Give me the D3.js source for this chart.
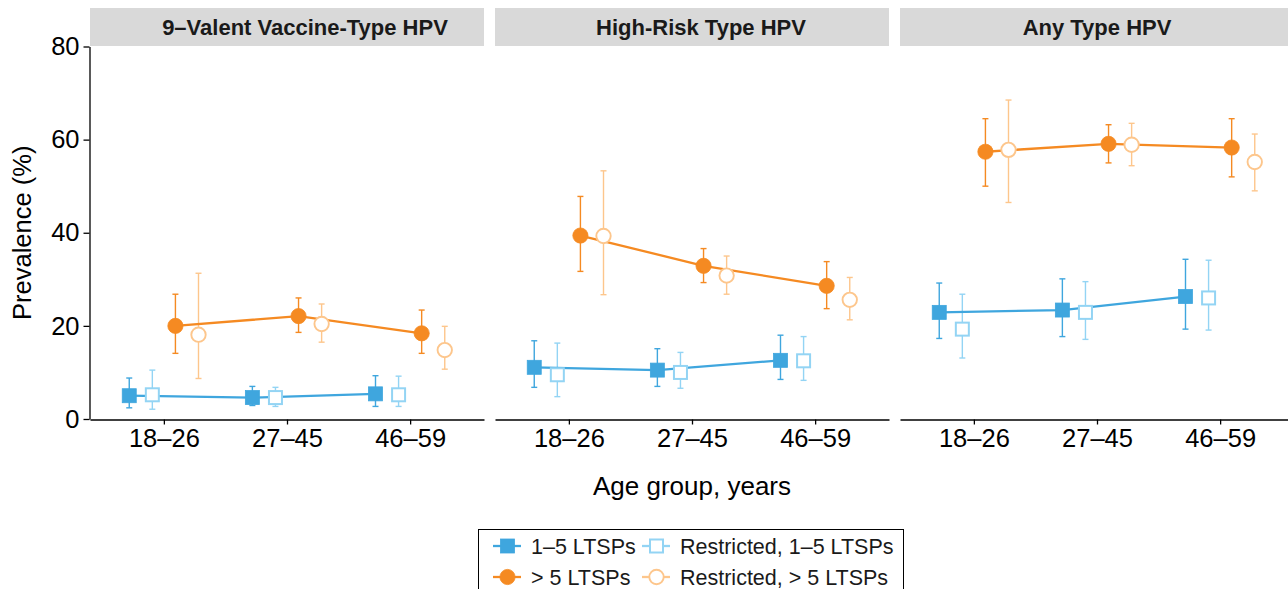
<!DOCTYPE html>
<html>
<head>
<meta charset="utf-8">
<script src="https://cdn.jsdelivr.net/npm/d3@7"></script>
<style>
  body { margin: 0; background: #fff; }
  svg { font-family: "Liberation Sans", Arial, Helvetica, sans-serif; }
  .axis path, .axis line { stroke: #000; stroke-width: 1.3; }
  .axis text { font-size: 25.5px; fill: #000; }
</style>
</head>
<body>
<div id="chart"></div>
<script>
// panels, categories, series
const panels = ["9\u2013Valent Vaccine-Type HPV", "High-Risk Type HPV", "Any Type HPV"];
const ageGroups = ["18\u201326", "27\u201345", "46\u201359"];
const seriesNames = ["1\u20135 LTSPs", "Restricted, 1\u20135 LTSPs", "> 5 LTSPs", "Restricted, > 5 LTSPs"];
const yTicks = [0, 20, 40, 60, 80];

// estimates [panel][age group] for each series
const est15 = [[5.0, 4.6, 5.4], [11.1, 10.5, 12.6], [22.9, 23.4, 26.3]];
const lo15  = [[2.4, 2.9, 2.7], [6.8, 7.0, 8.5], [17.3, 17.7, 19.3]];
const hi15  = [[8.8, 7.0, 9.3], [16.8, 15.1, 18.0], [29.2, 30.1, 34.3]];

const estR15 = [[5.2, 4.6, 5.2], [9.5, 10.0, 12.5], [19.3, 22.9, 26.0]];
const loR15  = [[2.1, 2.7, 2.7], [4.8, 6.6, 8.3], [13.1, 17.1, 19.1]];
const hiR15  = [[10.5, 6.8, 9.2], [16.3, 14.3, 17.7], [26.8, 29.5, 34.1]];

const est5 = [[20.0, 22.1, 18.4], [39.4, 32.9, 28.6], [57.4, 59.1, 58.3]];
const lo5  = [[14.1, 18.6, 14.1], [31.7, 29.3, 23.7], [50.0, 55.0, 52.0]];
const hi5  = [[26.8, 26.0, 23.4], [47.8, 36.6, 33.8], [64.5, 63.2, 64.5]];

const estR5 = [[18.1, 20.4, 14.8], [39.3, 30.8, 25.6], [57.8, 58.9, 55.2]];
const loR5  = [[8.7, 16.5, 10.7], [26.7, 26.8, 21.3], [46.5, 54.4, 49.0]];
const hiR5  = [[31.3, 24.7, 19.9], [53.3, 35.0, 30.4], [68.5, 63.5, 61.2]];

const series = [
  { name: seriesNames[0], est: est15, lo: lo15, hi: hi15, color: "#3FA6DE", shape: "square", filled: true, line: true },
  { name: seriesNames[1], est: estR15, lo: loR15, hi: hiR15, color: "#93D4F4", shape: "square", filled: false, line: false },
  { name: seriesNames[2], est: est5, lo: lo5, hi: hi5, color: "#F58A22", shape: "circle", filled: true, line: true },
  { name: seriesNames[3], est: estR5, lo: loR5, hi: hiR5, color: "#FDC68C", shape: "circle", filled: false, line: false }
];

const W = 1288, H = 589;
const panelLeft = 90, panelW = 394, panelGap = 11;
const stripTop = 8, stripH = 38;
const stripShift = [18, 9, 0];   // strip labels sit a little right of centre in the original
const plotTop = 46.5, plotBottom = 419;

const svg = d3.select("#chart").append("svg")
  .attr("width", W).attr("height", H);

const y = d3.scaleLinear().domain([0, 80]).range([plotBottom, plotTop]);
const x = d3.scalePoint().domain(ageGroups).range([0, panelW]).padding(0.6);
const step = x.step();
const dodge = i => (i - 1.5) * 0.1875 * step;

function drawMarker(g, s, cx, cy) {
  if (s.shape === "square") {
    const side = s.filled ? 14 : 13;
    g.append("rect")
      .attr("x", cx - side / 2).attr("y", cy - side / 2)
      .attr("width", side).attr("height", side)
      .attr("fill", s.filled ? s.color : "#fff")
      .attr("stroke", s.color)
      .attr("stroke-width", s.filled ? 0.8 : 2);
  } else {
    g.append("circle")
      .attr("cx", cx).attr("cy", cy)
      .attr("r", s.filled ? 7.6 : 7.2)
      .attr("fill", s.filled ? s.color : "#fff")
      .attr("stroke", s.color)
      .attr("stroke-width", s.filled ? 0.8 : 1.9);
  }
}

panels.forEach((title, p) => {
  const gx = panelLeft + p * (panelW + panelGap);
  const g = svg.append("g").attr("transform", `translate(${gx},0)`);

  // strip
  g.append("rect")
    .attr("x", 0).attr("y", stripTop).attr("width", panelW).attr("height", stripH)
    .attr("fill", "#D9D9D9");
  g.append("text")
    .attr("x", panelW / 2 + stripShift[p]).attr("y", stripTop + stripH / 2 + 7.5)
    .attr("text-anchor", "middle")
    .attr("font-size", "22px").attr("font-weight", "bold").attr("fill", "#1a1a1a")
    .text(title);

  // x axis
  g.append("g").attr("class", "axis")
    .attr("transform", `translate(0,${plotBottom + 0.5})`)
    .call(d3.axisBottom(x).tickSize(5).tickPadding(4).tickSizeOuter(0))
    .selectAll("text").attr("dy", "0.71em");

  if (p === 0) {
    g.append("g").attr("class", "axis")
      .attr("transform", "translate(-0.5,0)")
      .call(d3.axisLeft(y).tickValues(yTicks).tickSize(6).tickPadding(4).tickSizeOuter(0));
  }

  // error bars
  series.forEach((s, i) => {
    ageGroups.forEach((a, k) => {
      const cx = x(a) + dodge(i);
      const eg = g.append("g").attr("stroke", s.color).attr("stroke-width", 1.4).attr("fill", "none");
      eg.append("line").attr("x1", cx).attr("x2", cx).attr("y1", y(s.lo[p][k])).attr("y2", y(s.hi[p][k]));
      eg.append("line").attr("x1", cx - 3).attr("x2", cx + 3).attr("y1", y(s.lo[p][k])).attr("y2", y(s.lo[p][k]));
      eg.append("line").attr("x1", cx - 3).attr("x2", cx + 3).attr("y1", y(s.hi[p][k])).attr("y2", y(s.hi[p][k]));
    });
  });

  // lines for main series
  series.forEach((s, i) => {
    if (!s.line) return;
    const line = d3.line()
      .x((d, k) => x(ageGroups[k]) + dodge(i))
      .y(d => y(d));
    g.append("path")
      .datum(s.est[p])
      .attr("d", line)
      .attr("fill", "none")
      .attr("stroke", s.color)
      .attr("stroke-width", 2.3);
  });

  // markers
  series.forEach((s, i) => {
    ageGroups.forEach((a, k) => {
      drawMarker(g, s, x(a) + dodge(i), y(s.est[p][k]));
    });
  });
});

// axis titles
svg.append("text")
  .attr("x", 692).attr("y", 495)
  .attr("text-anchor", "middle").attr("font-size", "26px").attr("fill", "#000")
  .text("Age group, years");
svg.append("text")
  .attr("transform", `translate(31,${(plotTop + plotBottom) / 2}) rotate(-90)`)
  .attr("text-anchor", "middle").attr("font-size", "25.5px").attr("fill", "#000")
  .text("Prevalence (%)");

// legend
const legend = svg.append("g");
legend.append("rect")
  .attr("x", 478.5).attr("y", 529.5).attr("width", 425).attr("height", 70)
  .attr("fill", "#fff").attr("stroke", "#000").attr("stroke-width", 1);
const legendPos = [
  { kx: 493, ky: 546, tx: 531 },
  { kx: 642, ky: 546, tx: 680 },
  { kx: 493, ky: 577, tx: 531 },
  { kx: 642, ky: 577, tx: 680 }
];
series.forEach((s, i) => {
  const lp = legendPos[i];
  legend.append("line")
    .attr("x1", lp.kx).attr("x2", lp.kx + 28).attr("y1", lp.ky).attr("y2", lp.ky)
    .attr("stroke", s.color).attr("stroke-width", 2.3);
  drawMarker(legend, s, lp.kx + 14.5, lp.ky);
  legend.append("text")
    .attr("x", lp.tx).attr("y", lp.ky + 7.5)
    .attr("font-size", "21.5px").attr("fill", "#1a1a1a")
    .text(s.name);
});
</script>
</body>
</html>
